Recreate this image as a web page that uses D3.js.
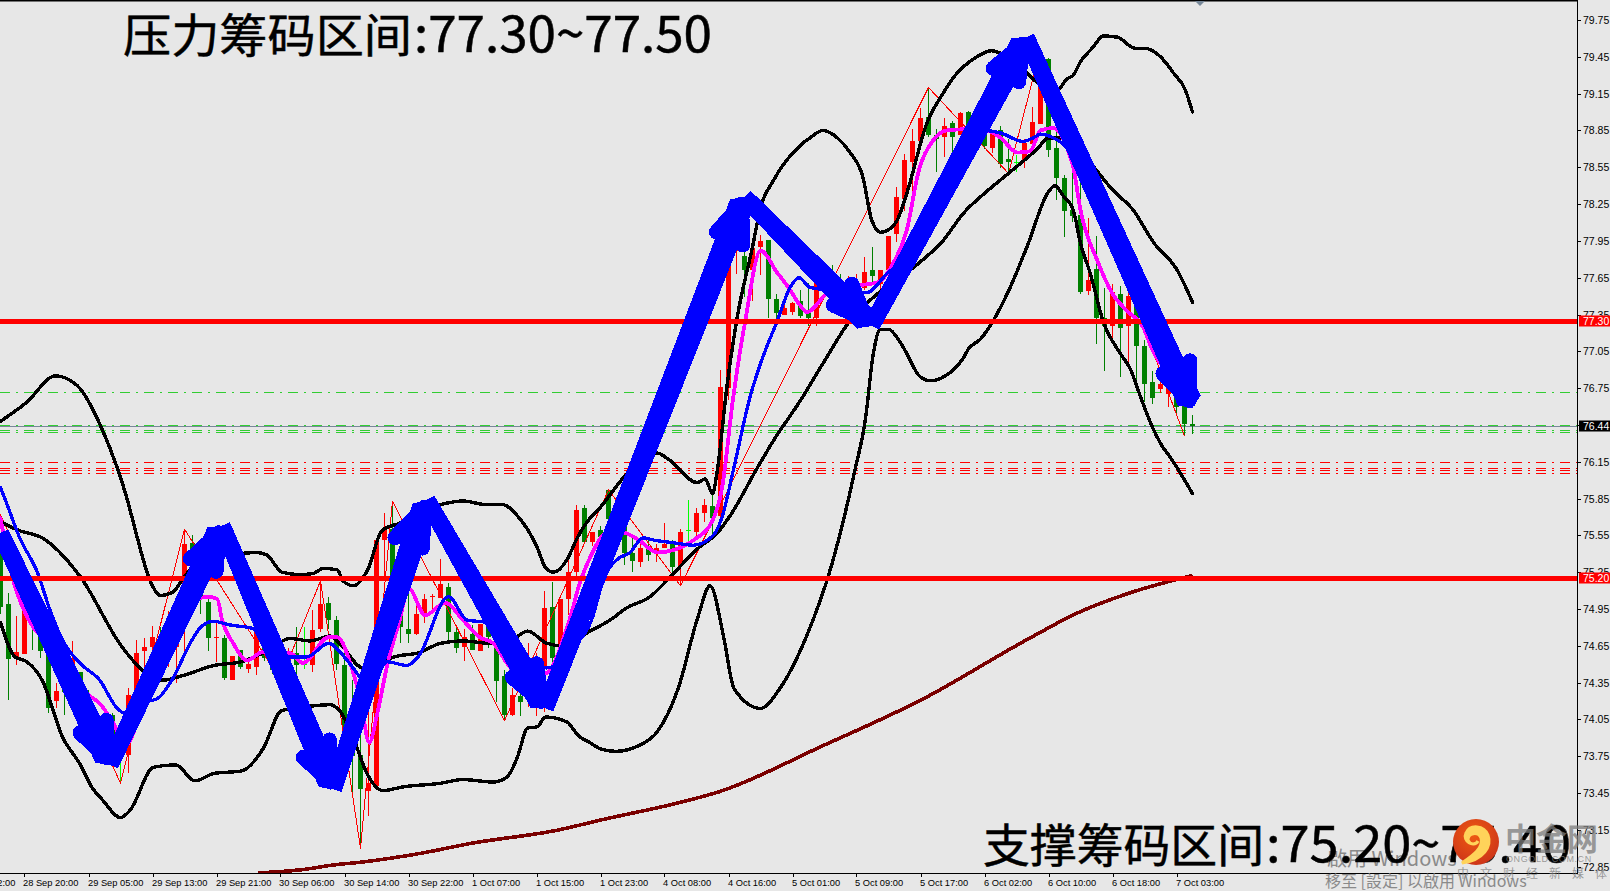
<!DOCTYPE html>
<html><head><meta charset="utf-8">
<script src="https://cdn.jsdelivr.net/npm/d3@7/dist/d3.min.js"></script>
<style>html,body{margin:0;padding:0;background:#e7e7e7;overflow:hidden}svg{display:block}</style>
</head><body><svg id="c" width="1610" height="891"></svg>
<script>
// [open, high, low, close], one row per hourly bar
const candles=[
[75.43,75.55,74.91,74.97],[74.99,75.08,74.21,74.54],[74.54,74.89,74.49,74.60],[74.58,75.07,74.58,75.05],[74.97,75.18,74.62,74.84],
[74.78,74.80,74.55,74.61],[74.62,74.80,74.10,74.14],[74.20,74.35,74.14,74.28],[74.29,74.42,74.09,74.27],[74.33,74.69,74.21,74.55],
[74.44,74.44,74.01,74.23],[74.26,74.29,74.04,74.07],[74.07,74.12,73.95,73.98],[73.95,74.08,73.90,74.03],[74.09,74.10,73.75,73.90],
[73.75,73.96,73.53,73.75],[73.76,74.31,73.61,74.25],[74.25,74.70,74.25,74.59],[74.61,74.71,74.42,74.64],[74.64,74.81,74.50,74.72],
[74.73,74.80,74.48,74.59],[74.55,74.93,74.48,74.83],[74.64,74.91,74.35,74.80],[75.05,75.60,74.55,75.48],[75.49,75.55,75.20,75.30],
[75.18,75.30,74.91,75.03],[75.01,75.05,74.61,74.71],[74.71,74.84,74.52,74.72],[74.71,74.74,74.37,74.39],[74.37,74.57,74.37,74.57],
[74.62,74.62,74.46,74.48],[74.46,74.56,74.43,74.50],[74.48,74.84,74.41,74.84],[74.89,75.01,74.53,74.55],[74.56,74.60,74.42,74.45],
[74.40,74.52,74.38,74.50],[74.50,74.63,74.50,74.60],[74.59,74.80,74.42,74.49],[74.50,74.80,74.46,74.50],[74.49,74.94,74.44,74.78],
[74.79,75.18,74.76,74.99],[75.00,75.05,74.79,74.86],[74.86,74.89,74.45,74.50],[74.49,74.68,73.83,73.99],[73.99,74.37,73.45,73.75],
[73.76,74.10,73.00,73.48],[73.47,74.12,73.26,73.53],[73.51,75.53,73.51,75.51],[75.51,75.73,75.18,75.59],[75.60,75.83,74.69,75.15],
[74.98,75.13,74.67,74.80],[74.79,75.08,74.67,74.75],[74.75,74.99,74.74,74.91],[74.90,75.07,74.84,75.03],[75.05,75.07,74.94,75.06],
[75.04,75.36,75.04,75.15],[75.13,75.16,74.69,74.76],[74.76,74.81,74.59,74.63],[74.64,74.79,74.53,74.72],[74.75,74.82,74.62,74.62],
[74.61,74.83,74.61,74.83],[74.83,74.83,74.63,74.72],[74.72,74.73,74.19,74.36],[74.40,74.45,74.04,74.09],[74.09,74.31,74.08,74.25],
[74.24,74.31,74.08,74.19],[74.22,74.67,74.15,74.31],[74.26,74.59,74.08,74.37],[74.48,75.10,74.11,74.96],[74.97,75.17,74.37,74.55],
[74.49,75.03,74.31,75.03],[75.03,75.41,74.90,75.25],[75.25,75.80,75.22,75.76],[75.77,75.80,75.48,75.50],[75.50,75.58,75.46,75.58],
[75.59,75.63,75.46,75.54],[75.92,75.92,75.67,75.68],[75.60,75.72,75.55,75.70],[75.67,75.70,75.31,75.41],[75.41,75.56,75.25,75.34],
[75.33,75.51,75.29,75.45],[75.44,75.51,75.34,75.39],[75.42,75.48,75.33,75.45],[75.45,75.65,75.45,75.48],[75.50,75.51,75.25,75.29],
[75.30,75.60,75.14,75.58],[75.59,75.84,75.50,75.59],[75.58,75.77,75.51,75.73],[75.73,75.85,75.66,75.80],[75.79,75.89,75.55,75.69],
[75.71,76.90,75.60,76.76],[76.75,78.05,76.65,77.95],[77.87,77.95,77.68,77.95],[77.83,77.95,77.49,77.71],[77.71,77.89,77.46,77.89],
[77.90,78.00,77.67,77.95],[77.96,77.96,77.32,77.48],[77.48,77.52,77.32,77.36],[77.35,77.44,77.35,77.40],[77.37,77.45,77.35,77.44],
[77.46,77.55,77.32,77.34],[77.36,77.61,77.26,77.32],[77.32,77.79,77.26,77.64],[77.65,77.78,77.52,77.55],[77.58,77.75,77.48,77.50],
[77.63,77.68,77.52,77.58],[77.55,77.66,77.50,77.63],[77.56,77.68,77.52,77.62],[77.57,77.82,77.55,77.70],[77.71,77.90,77.60,77.66],
[77.60,77.71,77.53,77.71],[77.71,77.99,77.71,77.99],[78.01,78.39,77.94,78.31],[78.29,78.66,78.19,78.61],[78.59,78.86,78.35,78.76],
[78.76,79.03,78.73,78.95],[78.96,79.20,78.80,78.81],[78.81,78.86,78.51,78.78],[78.80,78.95,78.63,78.89],[78.91,78.93,78.59,78.80],
[78.81,79.00,78.81,78.99],[79.00,79.01,78.82,78.82],[78.80,78.90,78.72,78.85],[78.85,78.86,78.70,78.72],[78.71,78.85,78.67,78.83],
[78.85,78.89,78.54,78.58],[78.62,78.78,78.50,78.59],[78.59,78.65,78.51,78.59],[78.61,78.78,78.54,78.75],[78.74,79.04,78.72,78.92],
[78.90,79.51,78.90,79.49],[79.43,79.44,78.63,78.69],[78.71,79.19,78.28,78.46],[78.46,78.49,77.98,78.19],[78.20,78.66,78.10,78.15],
[78.16,78.47,77.52,77.53],[77.54,78.14,77.51,77.63],[77.72,77.99,77.11,77.32],[77.32,77.57,76.89,77.26],[77.26,77.60,77.13,77.53],
[77.52,77.58,76.84,77.24],[77.26,77.55,76.95,77.50],[77.52,77.55,76.81,77.09],[77.09,77.14,76.64,76.78],[76.80,76.89,76.62,76.67],
[76.74,76.89,76.71,76.78],[76.70,76.93,76.60,76.88],[76.75,76.80,76.55,76.60],[76.66,76.70,76.36,76.46],[76.46,76.53,76.38,76.44]];

// [bar, price] readings of each indicator line
const bbUpper=[[0,76.48],[3.2,76.63],[6.9,76.85],[9.6,76.77],[12.8,76.40],[15.9,75.83],[17.1,75.53],[18.7,75.18],[20,75.06],[21.6,75.09],[22.8,75.20],[24.6,75.32],[26.8,75.37],[29.6,75.40],[32.1,75.41],[33.3,75.39],[35.2,75.25],[37.4,75.23],[39.1,75.24],[40.3,75.28],[42.1,75.27],[42.8,75.18],[44.1,75.14],[45.9,75.27],[47.7,75.59],[49.9,75.65],[52.4,75.74],[55,75.80],[57.8,75.83],[60.8,75.80],[62.8,75.80],[64.6,75.71],[67.1,75.45],[68.1,75.29],[69.1,75.25],[70.8,75.35],[72.1,75.53],[73.7,75.69],[74.6,75.75],[78.7,76.08],[82.1,76.22],[83.7,76.16],[87.1,75.98],[88.1,76.01],[89,75.89],[89.6,76.08],[90.8,76.76],[92.1,77.33],[94,77.90],[95,78.22],[96.6,78.44],[100,78.73],[101.2,78.79],[102.8,78.85],[104.6,78.79],[106.2,78.67],[107.8,78.47],[108.9,78.12],[110,78.02],[111,78.04],[112.1,78.12],[113.3,78.34],[115.8,78.91],[117.8,79.15],[119.1,79.28],[121.8,79.44],[123.9,79.50],[125,79.48],[128.3,79.32],[130,79.22],[132.1,79.18],[133.3,79.27],[134.1,79.30],[135,79.41],[136.6,79.53],[137.8,79.62],[139.6,79.61],[141.8,79.52],[143,79.52],[145,79.45],[146.6,79.32],[148.1,79.18],[149,79.00]];
const bbLower=[[0,74.84],[1.8,74.56],[3.3,74.52],[5.2,74.37],[7.8,73.90],[9.9,73.69],[11.4,73.50],[12.8,73.39],[15,73.25],[16.2,73.31],[19.1,73.66],[21.9,73.68],[24.3,73.55],[26.7,73.61],[30.1,73.63],[32.9,73.82],[35.1,74.12],[37.8,74.15],[41.2,74.17],[42.4,74.12],[44.1,73.90],[45.8,73.61],[47.8,73.47],[50.3,73.50],[55,73.53],[57.8,73.56],[61.6,73.54],[63.3,73.58],[64.6,73.74],[65.9,73.98],[67.1,73.99],[68.1,74.07],[70.8,74.03],[72.2,73.92],[73.7,73.86],[75,73.81],[76.9,73.79],[79.9,73.84],[82.1,73.95],[84.7,74.30],[87.2,74.89],[88.7,75.14],[90.4,74.72],[91.7,74.30],[95,74.14],[97.4,74.30],[100.7,74.72],[103.9,75.31],[106.8,76.08],[108.1,76.49],[109.1,77.03],[110,77.23],[111,77.23],[112.5,77.12],[115,76.84],[116.2,76.81],[118.1,76.85],[120.3,76.99],[121,77.07],[122.5,77.15],[124.1,77.30],[126.2,77.57],[128.3,77.90],[131,78.35],[131.8,78.40],[132.8,78.32],[134.1,78.20],[135,77.93],[136.2,77.69],[137.8,77.30],[140,77.03],[141.2,76.91],[142.5,76.68],[144,76.43],[145,76.30],[146.4,76.17],[149,75.89]];
const bbMiddle=[[0,75.66],[2.3,75.59],[5.2,75.53],[9.9,75.22],[15.2,74.64],[18.1,74.43],[20.3,74.37],[22.9,74.41],[26.7,74.49],[30.1,74.52],[33.4,74.61],[36.2,74.71],[38.7,74.69],[41.2,74.73],[42.4,74.67],[45.3,74.47],[47.4,74.52],[49.9,74.57],[52.1,74.59],[55,74.67],[57.8,74.69],[61.2,74.67],[63.7,74.69],[65.9,74.77],[68.3,74.67],[70.3,74.65],[73.7,74.77],[76.2,74.86],[78.3,74.96],[81.2,75.05],[83.7,75.21],[87.1,75.44],[89.6,75.57],[91.2,75.71],[94.6,76.10],[96.6,76.32],[100,76.65],[102.8,76.95],[106.2,77.30],[109.1,77.49],[113.3,77.69],[115,77.78],[117.8,77.95],[120.3,78.17],[123.4,78.36],[126,78.50],[129.6,78.70],[131,78.79],[132.1,78.79],[135,78.67],[139.1,78.36],[141.6,78.20],[144.1,77.94],[147.1,77.71],[149,77.45]];
const maSlow=[[32.4,72.80],[38.2,72.83],[41.1,72.86],[45.5,72.89],[52.6,72.96],[58.8,73.04],[69.8,73.15],[75,73.23],[84.7,73.37],[89.8,73.46],[102.6,73.83],[115.4,74.22],[128.3,74.70],[134.7,74.92],[141.1,75.08],[148.8,75.22]];
const maMagenta=[[0,75.69],[1.6,75.18],[2.8,74.96],[4.1,74.80],[5.3,74.71],[8.1,74.49],[10.8,74.26],[12.4,74.18],[14.1,74.02],[15.6,73.84],[18.1,74.21],[21.2,74.64],[23.3,74.88],[25,75.04],[26,75.05],[27.1,75.03],[27.7,74.86],[29.1,74.67],[30.8,74.53],[32.8,74.60],[35.3,74.59],[36.2,74.59],[37.8,74.51],[41,74.72],[42.1,74.72],[44,74.45],[45,74.21],[46.1,73.86],[47.1,74.10],[48.4,74.51],[49.9,74.86],[51,75.12],[53.1,74.90],[55.6,75.00],[57.8,74.86],[59.9,74.72],[61.6,74.67],[63.3,74.51],[65.3,74.37],[68.3,74.43],[71.2,74.88],[72.4,75.16],[73.7,75.37],[75.8,75.57],[77.5,75.58],[79.6,75.52],[82.1,75.41],[84.1,75.43],[86.6,75.51],[89,75.67],[90.2,75.94],[91.6,76.68],[93.1,77.30],[95,77.87],[97.1,77.69],[98.5,77.57],[100,77.42],[100.8,77.37],[103.3,77.52],[105.3,77.57],[107.4,77.59],[109.6,77.61],[111.6,77.77],[113.3,78.04],[114.7,78.50],[116.6,78.77],[118.3,78.85],[120.8,78.86],[123.7,78.84],[125,78.79],[127.1,78.67],[128.7,78.68],[130,78.85],[131.6,78.87],[133.3,78.71],[134.1,78.55],[135,78.20],[137.1,77.79],[139,77.52],[140.8,77.38],[142.8,77.25],[144,77.06],[146.2,76.85]];
const maBlue=[[0,75.94],[0.6,75.84],[2.4,75.53],[4.6,75.25],[6.2,74.94],[7.8,74.69],[9.9,74.51],[12.4,74.37],[14.6,74.14],[15.6,74.10],[17.4,74.18],[19.6,74.22],[21.6,74.39],[23.7,74.67],[25,74.80],[26.6,74.85],[28.7,74.82],[31.6,74.79],[33,74.64],[35.8,74.56],[38.3,74.56],[41,74.67],[43.1,74.55],[45,74.39],[46.2,74.30],[48.3,74.52],[50.8,74.49],[52.2,74.56],[56,75.05],[58.3,74.86],[60.8,74.84],[63.7,74.69],[66.2,74.52],[68.3,74.47],[71.8,74.65],[74,74.88],[75.3,75.18],[77.2,75.36],[78.7,75.41],[80.3,75.53],[81.8,75.51],[84.1,75.49],[86.6,75.47],[89.1,75.55],[90.2,75.70],[91.6,76.08],[93.7,76.68],[95,76.95],[97.1,77.30],[98.7,77.57],[99.8,77.65],[101.2,77.57],[103.7,77.55],[108.3,77.53],[110.9,77.69],[112.4,77.77],[115,78.08],[117.4,78.36],[119.9,78.69],[121.8,78.83],[122.8,78.85],[125,78.83],[127.8,78.76],[129.1,78.79],[130,78.82],[131.6,78.79],[133.3,78.71],[135,78.53]];
const zigzag=[[0,75.72],[15,73.53],[23,75.60],[35,74.37],[40,75.18],[45,73.00],[49,75.83],[63,74.04],[76,75.92],[85,75.14],[116,79.20],[126,78.50],[130,79.51],[148,76.36]];

// hand-drawn arrows: tail, tip, two wing ends
const arrows=[
 {tail:[0,75.57],tip:[13.7,73.68],w1:[9.3,73.98],w2:[13.2,74.10]},
 {tail:[13.7,73.68],tip:[27.7,75.63],w1:[23.1,75.32],w2:[26.9,75.20]},
 {tail:[27.7,75.63],tip:[41.6,73.48],w1:[37.2,73.78],w2:[41.1,73.94]},
 {tail:[41.6,73.48],tip:[53.3,75.84],w1:[48.7,75.49],w2:[52.7,75.39]},
 {tail:[53.3,75.84],tip:[68.1,74.14],w1:[63.3,74.43],w2:[66.9,74.56]},
 {tail:[68.1,74.14],tip:[93,78.31],w1:[88.9,77.98],w2:[92.8,77.86]},
 {tail:[93,78.31],tip:[108.9,77.26],w1:[103.3,77.45],w2:[106.1,77.65]},
 {tail:[108.9,77.26],tip:[128.2,79.61],w1:[123.4,79.32],w2:[127.2,79.19]},
 {tail:[128.2,79.61],tip:[149,76.59],w1:[144.7,76.91],w2:[148.7,77.03]}];

const priceTicks=["79.75","79.45","79.15","78.85","78.55","78.25","77.95","77.65","77.35","77.05","76.75","76.45","76.15","75.85","75.55","75.25","74.95","74.65","74.35","74.05","73.75","73.45","73.15","72.85"];
const timeLabels=["28 Sep 12:00","28 Sep 20:00","29 Sep 05:00","29 Sep 13:00","29 Sep 21:00","30 Sep 06:00","30 Sep 14:00","30 Sep 22:00","1 Oct 07:00","1 Oct 15:00","1 Oct 23:00","4 Oct 08:00","4 Oct 16:00","5 Oct 01:00","5 Oct 09:00","5 Oct 17:00","6 Oct 02:00","6 Oct 10:00","6 Oct 18:00","7 Oct 03:00"];
const thickLevels=[77.30,75.20];
const greenLevels=[76.72,76.45,76.41,76.39];
const redLevels=[76.145,76.10,76.08,76.06];
const bidLevel=76.44;

const x=d3.scaleLinear().domain([0,149]).range([0.5,1192.5]);
const y=d3.scaleLinear().domain([72.85,79.75]).range([866.7,20]);
const svg=d3.select("#c");
const W=1577,AX=873;
svg.append("rect").attr("width",1610).attr("height",891).attr("fill","#e7e7e7");
const defs=svg.append("defs");
defs.append("clipPath").attr("id","plot").append("rect").attr("width",W).attr("height",AX);
const g=svg.append("g").attr("clip-path","url(#plot)").attr("shape-rendering","crispEdges");

const hline=(vals,col,w,dash)=>g.append("g").selectAll("line").data(vals).join("line")
 .attr("x1",0).attr("x2",W).attr("y1",d=>Math.round(y(d))+.5).attr("y2",d=>Math.round(y(d))+.5)
 .attr("stroke",col).attr("stroke-width",w).attr("stroke-dasharray",dash);
hline(greenLevels,"#32cd32",1,"10 6 2 6");
hline(redLevels,"#ff0000",1,"10 6 2 6");
hline([bidLevel],"#778899",1,null);

const cg=g.append("g").selectAll("g").data(candles).join("g");
const col=d=>d[0]===d[3]?"#00ff00":(d[3]>d[0]?"#ff0000":"#008000");
cg.append("rect").attr("x",(d,i)=>Math.round(x(i)-.5)).attr("width",1)
 .attr("y",d=>y(d[1])).attr("height",d=>y(d[2])-y(d[1])).attr("fill",col);
cg.append("rect").attr("x",(d,i)=>Math.round(x(i)-.5)-2).attr("width",5)
 .attr("y",d=>y(Math.max(d[0],d[3]))).attr("height",d=>Math.max(1,Math.abs(y(d[0])-y(d[3])))).attr("fill",col);

const lineSmooth=d3.line().x(d=>x(d[0])).y(d=>y(d[1])).curve(d3.curveMonotoneX);
const lineStraight=d3.line().x(d=>x(d[0])).y(d=>y(d[1]));
const draw=(data,c,w,gen)=>g.append("path").attr("d",gen(data)).attr("fill","none").attr("stroke",c)
 .attr("stroke-width",w).attr("stroke-linejoin","round").attr("stroke-linecap","round");
draw(zigzag,"#ff0000",1,lineStraight);
draw(maSlow,"#7a0000",3.6,lineSmooth);
draw(bbUpper,"#000",3.4,lineSmooth);
draw(bbLower,"#000",3.4,lineSmooth);
draw(bbMiddle,"#000",3.4,lineSmooth);
draw(maMagenta,"#ff00ff",3.8,lineSmooth);
draw(maBlue,"#0000ff",3.3,lineSmooth);

thickLevels.forEach(v=>g.append("rect").attr("x",0).attr("width",W).attr("y",Math.round(y(v))-2).attr("height",5).attr("fill","#ff0000"));

const ag=g.append("g").attr("fill","#0000ff").attr("stroke","#0000ff");
arrows.forEach(a=>{
 const T=[x(a.tail[0]),y(a.tail[1])],P=[x(a.tip[0]),y(a.tip[1])];
 const dx=P[0]-T[0],dy=P[1]-T[1],L=Math.hypot(dx,dy),ux=dx/L,uy=dy/L;
 const ins=8; // pull the outer tip reading back to the stroke centre
 const C=[P[0]-ux*ins,P[1]-uy*ins];
 const nx=-uy,ny=ux,w0=8.5,w1=12.5;
 ag.append("polygon").attr("stroke","none").attr("points",[
  [T[0]+nx*w0,T[1]+ny*w0],[C[0]+nx*w1,C[1]+ny*w1],[P[0],P[1]],[C[0]-nx*w1,C[1]-ny*w1],[T[0]-nx*w0,T[1]-ny*w0]].map(p=>p.join(",")).join(" "));
 [a.w1,a.w2].forEach(wing=>{
  const W0=[x(wing[0]),y(wing[1])],dd=Math.hypot(C[0]-W0[0],C[1]-W0[1]);
  const E=[W0[0]+(C[0]-W0[0])*7/dd,W0[1]+(C[1]-W0[1])*7/dd];
  ag.append("line").attr("x1",E[0]).attr("y1",E[1]).attr("x2",C[0]).attr("y2",C[1])
   .attr("stroke-width",15).attr("stroke-linecap","round");
 });
});

// frame and axes
svg.append("rect").attr("x",0).attr("y",0).attr("width",W+1).attr("height",1.5).attr("fill","#000");
svg.append("rect").attr("x",W).attr("y",0).attr("width",1).attr("height",AX+1).attr("fill","#000");
svg.append("rect").attr("x",0).attr("y",AX).attr("width",W+1).attr("height",1).attr("fill","#000");
svg.append("path").attr("d","M1195 1 L1205 1 L1200 6 Z").attr("fill","#778899");

const axisFont="'Liberation Sans',sans-serif";
const py=svg.append("g").attr("font-family",axisFont).attr("font-size",10.5).attr("fill","#000");
priceTicks.forEach(t=>{
 py.append("rect").attr("x",W+1).attr("y",Math.round(y(+t))).attr("width",3).attr("height",1);
 py.append("text").attr("x",1583).attr("y",y(+t)+4).text(t);
});
const barTick=i=>x(3+8*i-8);
const tx=svg.append("g").attr("font-family",axisFont).attr("font-size",9.3).attr("fill","#000");
timeLabels.forEach((t,i)=>{
 const px=Math.round(barTick(i));
 tx.append("rect").attr("x",px).attr("y",AX+1).attr("width",1).attr("height",3);
 tx.append("text").attr("x",px-1).attr("y",886).text(t);
});
[[77.30,"#ff0000"],[75.20,"#ff0000"],[76.44,"#000"]].forEach(([v,c])=>{
 svg.append("rect").attr("x",1579).attr("y",Math.round(y(v))-5.5).attr("width",31).attr("height",11).attr("fill",c);
 svg.append("text").attr("x",1583).attr("y",y(v)+4).attr("font-family",axisFont).attr("font-size",10.5).attr("fill","#fff").text(v.toFixed(2));
});

// captions: Chinese part and number part are fitted separately
const cjk="'Noto Sans CJK SC',sans-serif";
const caption=(parent,x0,x1,x2,base,a,b)=>{
 parent.append("text").attr("x",x0).attr("y",base).attr("font-family",cjk).attr("font-size",46).attr("fill","#000")
  .attr("stroke","#000").attr("stroke-width",.5).attr("textLength",x1-x0).attr("lengthAdjust","spacingAndGlyphs").text(a);
 parent.append("text").attr("x",x1+2).attr("y",base).attr("font-family",cjk).attr("font-size",50).attr("fill","#000")
  .attr("stroke","#000").attr("stroke-width",.5).attr("textLength",x2-x1-2).attr("lengthAdjust","spacingAndGlyphs").text(b);
};
caption(svg,123,412,712,52,"压力筹码区间",":77.30~77.50");

// watermark under the bottom caption
const wm=svg.append("g").attr("font-family",cjk).attr("fill","#8a8a8a");
wm.append("text").attr("x",1327).attr("y",866).attr("font-size",20).text("啟用 Windows");
wm.append("text").attr("x",1325).attr("y",887).attr("font-size",16).text("移至 [設定] 以啟用 Windows");

caption(svg,983,1264,1571,862,"支撑筹码区间",":75.20~75.40");

const lg=defs.append("radialGradient").attr("id","lg").attr("cx","0.45").attr("cy","0.35").attr("r","0.75");
lg.append("stop").attr("offset","0").attr("stop-color","#ee5a12");
lg.append("stop").attr("offset","1").attr("stop-color","#c9301a");
svg.append("circle").attr("cx",1476).attr("cy",842).attr("r",23).attr("fill","url(#lg)");
svg.append("path").attr("d","M1462 863 C1484 860 1492 846 1488 835 C1484 825 1470 824 1466 833 C1462 841 1474 848 1478 841 C1476 845 1470 845 1468 840 C1468 833 1478 831 1481 838 C1484 848 1472 856 1462 863 Z")
 .attr("fill","#ffd35a").attr("stroke","#ffd35a").attr("stroke-width",3);
const br=svg.append("g").attr("fill","rgba(125,125,125,.75)").attr("font-family",cjk);
br.append("text").attr("x",1505).attr("y",850).attr("font-size",31).attr("font-weight",700).text("中金网");
br.append("text").attr("x",1506).attr("y",862).attr("font-size",9).attr("font-family",axisFont).attr("letter-spacing",.6).text("ONGOLD.COM.CN");
br.append("text").attr("x",1457).attr("y",878).attr("font-size",12).attr("letter-spacing",11).text("中文财经新媒体");
</script></body></html>
